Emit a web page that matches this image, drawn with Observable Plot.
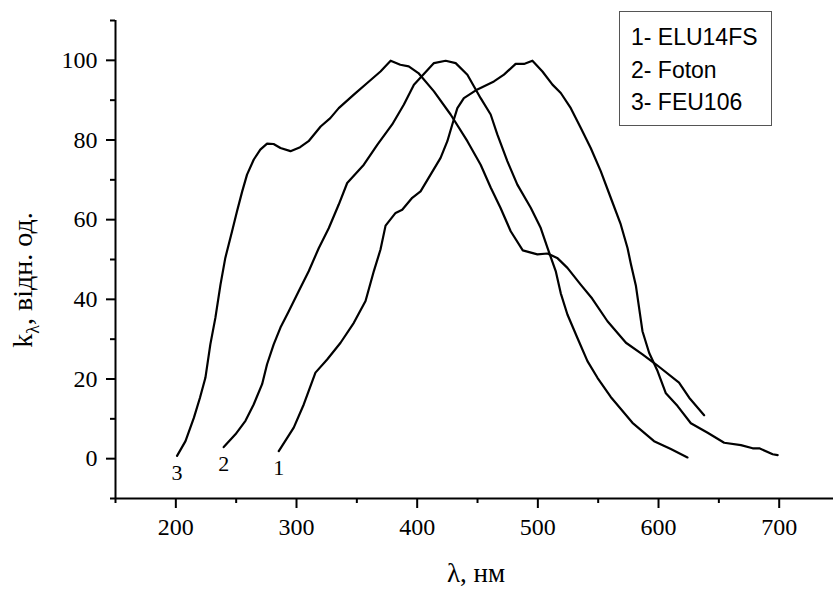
<!DOCTYPE html>
<html>
<head>
<meta charset="utf-8">
<script src="https://cdn.jsdelivr.net/npm/d3@7"></script>
<script src="https://cdn.jsdelivr.net/npm/@observablehq/plot@0.6"></script>
<style>
  html, body { margin: 0; padding: 0; background: white; }
  #chart { width: 833px; height: 590px; }
</style>
</head>
<body>
<div id="chart"></div>
<script>
// Curve 1 – ELU14FS
const lambda1 = [285.3, 297.7, 306, 315.7, 325.4, 336.5, 347.5, 357.2, 364.1, 369.6, 373.8, 382.1, 387.6, 395.9, 402.8, 411.1, 419.4, 425, 429.1, 433.3, 438.7, 449.9, 463.6, 471.9, 481.6, 488.5, 495.5, 503.8, 512.1, 519, 527.3, 535.6, 543.8, 552.1, 560.4, 568.7, 574.3, 577, 581.2, 586.7, 592.2, 599.2, 606.1, 615.8, 626.8, 640.7, 654.4, 668.3, 678, 683.5, 694.6, 698.7];
const k1 = [1.9, 7.8, 13.6, 21.6, 24.9, 29.1, 34.1, 39.6, 47.1, 52.5, 58.5, 61.7, 62.5, 65.5, 67.1, 71.3, 75.5, 79.7, 83.9, 88.0, 90.5, 92.7, 94.7, 96.4, 99.1, 99.1, 99.9, 97.2, 93.9, 91.8, 88.0, 83.0, 78.0, 72.2, 65.5, 58.8, 52.9, 49.0, 43.5, 32.0, 26.6, 22.0, 16.4, 13.2, 8.9, 6.5, 4.0, 3.4, 2.6, 2.6, 1.1, 0.9];

// Curve 2 – Foton
const lambda2 = [239.7, 249.4, 257.7, 264.5, 271.5, 275.6, 281.1, 286.7, 293.6, 301.9, 310.2, 318.5, 326.8, 335, 342, 355.8, 366.9, 379.3, 389, 397.3, 413.9, 423.6, 431.9, 441.6, 452.6, 460.9, 466.4, 474.7, 483, 494.1, 502.4, 508, 514.8, 519, 524.5, 532.8, 541.1, 549.4, 560.4, 578.4, 596.3, 610.2, 624];
const k2 = [2.9, 6.1, 9.5, 13.6, 18.7, 23.7, 28.7, 32.9, 37.0, 42.1, 47.1, 52.9, 57.9, 63.8, 69.2, 73.8, 78.8, 83.9, 88.9, 93.9, 99.3, 99.9, 99.3, 96.4, 90.5, 86.4, 81.4, 74.7, 68.8, 63.0, 57.9, 52.9, 47.1, 41.5, 36.2, 30.3, 24.5, 20.3, 15.5, 9.0, 4.4, 2.4, 0.3];

// Curve 3 – FEU106
const lambda3 = [201, 208, 215, 220, 224.5, 228.6, 232.8, 237, 241, 246.6, 250.7, 255, 259, 264.6, 270, 275.6, 281, 286.7, 295, 303, 310, 320, 328, 335, 347.5, 358.6, 369.6, 378, 386, 393, 401, 413.9, 427.7, 441.6, 452.6, 461, 469, 477.5, 487.5, 499.6, 508, 516, 524.5, 535.5, 545, 557.7, 573, 586.7, 597.8, 617, 625.4, 637.8];
const k3 = [0.7, 4.4, 10.3, 15.3, 20.3, 28.7, 35.4, 43.7, 50.4, 57.1, 62.1, 67.1, 71.3, 75.1, 77.6, 79.1, 79.0, 78.0, 77.2, 78.2, 79.7, 83.4, 85.5, 88.0, 91.4, 94.3, 97.2, 99.9, 98.9, 98.5, 96.8, 92.2, 86.4, 79.7, 73.8, 68.0, 63.0, 57.1, 52.3, 51.3, 51.5, 50.4, 47.9, 43.7, 40.2, 34.5, 29.1, 26.2, 23.7, 19.1, 15.3, 10.9];

const curveNumbers = ["1", "2", "3"];
const curveNames = ["ELU14FS", "Foton", "FEU106"];
const xMajorTicks = [200, 300, 400, 500, 600, 700];
const xMinorTicks = [150, 250, 350, 450, 550, 650];
const yMajorTicks = [0, 20, 40, 60, 80, 100];
const yMinorTicks = [-10, 10, 30, 50, 70, 90, 110];
const xTitle = "λ, нм";
const yTitleMain = "k";
const yTitleSub = "λ";
const yTitleRest = ", відн. од.";

const lambdas = [lambda1, lambda2, lambda3];
const ks = [k1, k2, k3];
const rows = [];
lambdas.forEach((ls, i) => ls.forEach((l, j) => rows.push({x: l, y: ks[i][j], s: curveNumbers[i]})));
const starts = lambdas.map((ls, i) => ({x: ls[0], y: ks[i][0], s: curveNumbers[i]}));

const serif = "'Liberation Serif', 'Times New Roman', serif";

const chart = Plot.plot({
  width: 833,
  height: 590,
  marginLeft: 115,
  marginRight: 0,
  marginTop: 20,
  marginBottom: 92,
  x: {domain: [150, 745]},
  y: {domain: [-10, 110]},
  style: {background: "white", fontSize: "24px", color: "black"},
  marks: [
    Plot.ruleX([150], {stroke: "black", strokeWidth: 2}),
    Plot.ruleY([-10], {stroke: "black", strokeWidth: 2}),
    Plot.axisX({ticks: xMajorTicks, tickSize: 10, tickPadding: 9, strokeWidth: 2, label: null, fontSize: 24}),
    Plot.axisX({ticks: xMinorTicks, tickSize: 5, strokeWidth: 2, tickFormat: () => "", label: null}),
    Plot.axisY({ticks: yMajorTicks, tickSize: 9, tickPadding: 9, strokeWidth: 2, label: null, fontSize: 24}),
    Plot.axisY({ticks: yMinorTicks, tickSize: 5, strokeWidth: 2, tickFormat: () => "", label: null}),
    Plot.line(rows, {x: "x", y: "y", z: "s", stroke: "black", strokeWidth: 2.2, strokeLinejoin: "round"}),
    Plot.text(starts, {x: "x", y: "y", text: "s", dy: 17, fontSize: 22, fill: "black"})
  ]
});

document.getElementById("chart").appendChild(chart);

const svg = d3.select(chart);
// all Plot-generated texts (tick labels, curve numbers) in a Times-like serif
svg.selectAll("text").style("font-family", serif);

// fine-tune the x tick labels: baseline 37px below the axis line (screen coordinates)
const xAxisY = 590 - 92;
const svgTop = chart.getBoundingClientRect().top;
svg.selectAll("g[aria-label='x-axis tick label']").each(function() {
  const texts = Array.from(this.querySelectorAll("text")).filter(t => t.textContent);
  if (!texts.length) return;
  const r = texts[0].getBoundingClientRect();
  const baseline = r.top - svgTop + 0.891 * 24;
  const shift = (xAxisY + 37) - baseline;
  if (Math.abs(shift) < 40) {
    const prev = this.getAttribute("transform") || "";
    this.setAttribute("transform", `translate(0,${shift}) ${prev}`);
  }
});

// Y-axis title with subscript
const yt = svg.append("text")
  .attr("transform", "translate(32,280) rotate(-90)")
  .attr("text-anchor", "middle")
  .style("font-family", serif)
  .attr("font-size", 28)
  .attr("fill", "black");
yt.append("tspan").text(yTitleMain);
yt.append("tspan").attr("font-size", 18).attr("dy", 7).text(yTitleSub);
yt.append("tspan").attr("dy", -7).text(yTitleRest);

// X-axis title
svg.append("text")
  .attr("x", 476)
  .attr("y", 582)
  .attr("text-anchor", "middle")
  .style("font-family", serif)
  .attr("font-size", 27)
  .attr("fill", "black")
  .text(xTitle);

// Legend box
const lg = svg.append("g").attr("text-anchor", "start");
lg.append("rect")
  .attr("x", 619.5).attr("y", 11.5).attr("width", 152).attr("height", 114)
  .attr("fill", "white").attr("stroke", "#555").attr("stroke-width", 1);
curveNames.forEach((n, i) => {
  lg.append("text")
    .attr("x", 631)
    .attr("y", 45 + i * 32.5)
    .attr("text-anchor", "start")
    .style("font-family", "'Liberation Sans', Arial, sans-serif")
    .attr("font-size", 23)
    .attr("fill", "black")
    .text(curveNumbers[i] + "- " + n);
});
</script>
</body>
</html>
